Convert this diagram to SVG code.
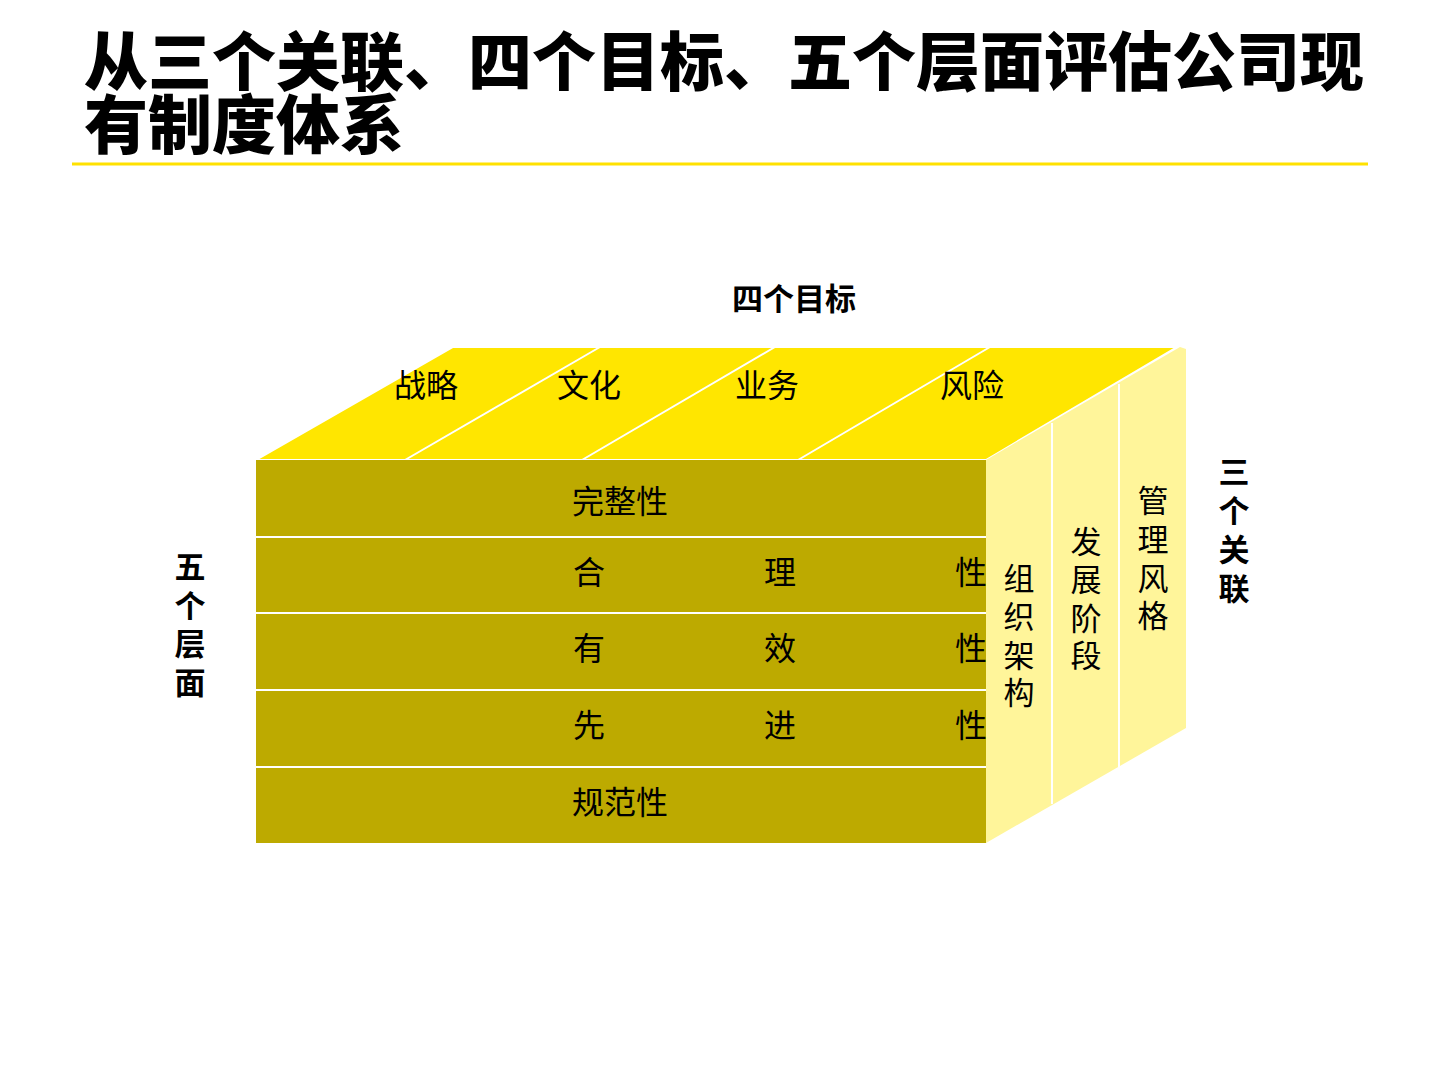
<svg xmlns="http://www.w3.org/2000/svg" width="1440" height="1080" viewBox="0 0 1440 1080">
<style>
.t{font-family:"Noto Sans CJK SC","Noto Sans",sans-serif;fill:#000}
.title{font-size:64px;font-weight:900}
.lab{font-size:31px;font-weight:bold;text-anchor:middle}
.cell{font-size:32px;text-anchor:middle}
.vcell{font-size:31px;text-anchor:middle}
.div{stroke:#fff;stroke-width:2;fill:none}
</style>
<rect width="1440" height="1080" fill="#fff"/>
<g id="title">
<text class="t title" x="84" y="85">从三个关联、四个目标、五个层面评估公司现</text>
<text class="t title" x="84" y="148">有制度体系</text>
<line x1="72" y1="164" x2="1368" y2="164" stroke="#FFE100" stroke-width="3"/>
</g>
<g id="top-face">
<polygon points="256,460 453,347 1177,347 986,460" fill="#FFE600" stroke="#fff" stroke-width="2"/>
<line class="div" x1="405" y1="460" x2="600" y2="347"/>
<line class="div" x1="582" y1="460" x2="775" y2="347"/>
<line class="div" x1="798" y1="460" x2="990" y2="347"/>
<text class="t cell" x="426" y="397">战略</text>
<text class="t cell" x="589" y="397">文化</text>
<text class="t cell" x="767" y="397">业务</text>
<text class="t cell" x="972" y="397">风险</text>
</g>
<g id="front-face">
<rect x="256" y="460" width="730" height="383" fill="#BDAA00"/>
<line class="div" x1="256" y1="537" x2="986" y2="537"/>
<line class="div" x1="256" y1="613" x2="986" y2="613"/>
<line class="div" x1="256" y1="690" x2="986" y2="690"/>
<line class="div" x1="256" y1="767" x2="986" y2="767"/>
<text class="t cell" x="620" y="513">完整性</text>
<text class="t cell" x="589" y="584">合</text><text class="t cell" x="780" y="584">理</text><text class="t cell" x="971" y="584">性</text>
<text class="t cell" x="589" y="660">有</text><text class="t cell" x="780" y="660">效</text><text class="t cell" x="971" y="660">性</text>
<text class="t cell" x="589" y="737">先</text><text class="t cell" x="780" y="737">进</text><text class="t cell" x="971" y="737">性</text>
<text class="t cell" x="620" y="814">规范性</text>
</g>
<g id="side-face">
<polygon points="986,460 1180,347 1186,349 1186,728 986,843" fill="#FFF59A"/>
<line class="div" x1="1052" y1="423" x2="1052" y2="804"/>
<line class="div" x1="1119" y1="384" x2="1119" y2="767"/>
<text class="t vcell"><tspan x="1019" y="590">组</tspan><tspan x="1019" y="628">织</tspan><tspan x="1019" y="667">架</tspan><tspan x="1019" y="704">构</tspan></text>
<text class="t vcell"><tspan x="1086" y="553">发</tspan><tspan x="1086" y="591">展</tspan><tspan x="1086" y="630">阶</tspan><tspan x="1086" y="667">段</tspan></text>
<text class="t vcell"><tspan x="1153" y="512">管</tspan><tspan x="1153" y="551">理</tspan><tspan x="1153" y="590">风</tspan><tspan x="1153" y="627">格</tspan></text>
</g>
<g id="label-goals">
<text class="t lab" x="794" y="310">四个目标</text>
</g>
<g id="label-relations">
<text class="t lab"><tspan x="1234" y="483">三</tspan><tspan x="1234" y="522">个</tspan><tspan x="1234" y="561">关</tspan><tspan x="1234" y="600">联</tspan></text>
</g>
<g id="label-levels">
<text class="t lab"><tspan x="190" y="578">五</tspan><tspan x="190" y="617">个</tspan><tspan x="190" y="655">层</tspan><tspan x="190" y="694">面</tspan></text>
</g>
<g id="connectors"></g>
</svg>
